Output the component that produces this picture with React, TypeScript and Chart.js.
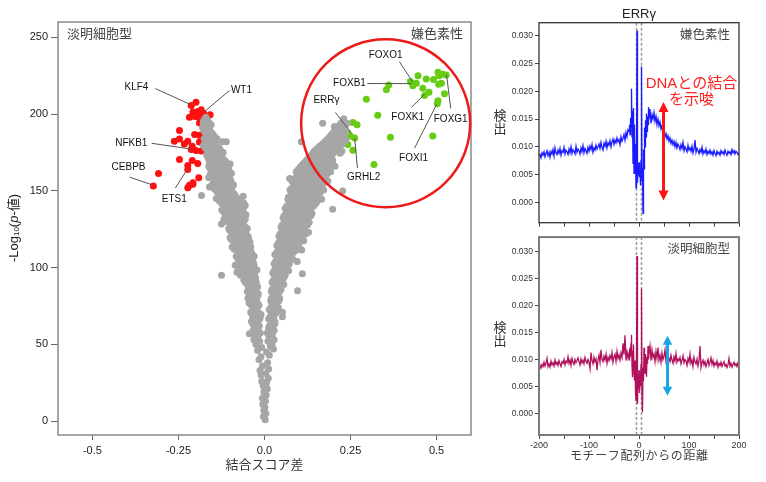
import { useEffect, useRef } from 'react';
import { Chart, registerables } from 'chart.js';

Chart.register(...registerables);

const FONT = '"Liberation Sans", Arial, "Noto Sans CJK JP", sans-serif';

// ---------------- Volcano plot data ----------------
const volcanoXTicks = [-0.5, -0.25, 0, 0.25, 0.5];
const volcanoXLabels = ['-0.5', '-0.25', '0.0', '0.25', '0.5'];
const volcanoYTicks = [0, 50, 100, 150, 200, 250];

// each row: [y, x1, x2, ...]
const greyRows: number[][] = [
  [1, 0.002], [3, -0.003], [5, 0.004], [7, -0.002], [9, 0.001], [11, -0.005], [13, 0.003],
  [15, -0.006], [17, 0.005], [19, -0.002], [21, 0.008], [23, -0.004], [25, 0.006], [26, -0.008],
  [28, 0.011], [30, -0.010], [31, 0.004], [33, -0.013], [34, 0.012], [36, -0.006], [38, 0.009],
  [40, -0.016], [42, -0.010], [43, 0.014], [45, 0.006], [46, -0.020], [48, -0.008], [49, 0.017],
  [47, 0.026], [50, -0.025], [52, -0.014, 0.010], [50, 0.022], [53, -0.031, 0.028], [57, -0.044],
  // left arm
  [56, -0.028, -0.018], [59, -0.022, -0.033], [62, -0.026, -0.015], [65, -0.030, -0.019, -0.038],
  [68, -0.024, -0.012, -0.034], [71, -0.028, -0.040, -0.018], [74, -0.032, -0.022],
  [77, -0.045, -0.030, -0.020], [80, -0.036, -0.025, -0.048], [83, -0.040, -0.028, -0.018],
  [86, -0.034, -0.046], [89, -0.050, -0.038, -0.026], [92, -0.044, -0.031, -0.060],
  [95, -0.070, -0.052, -0.036, -0.125], [97, -0.080, -0.062, -0.040, -0.028],
  [100, -0.075, -0.055, -0.042], [103, -0.066, -0.048, -0.032], [106, -0.078, -0.058, -0.040],
  [109, -0.070, -0.052, -0.036], [112, -0.088, -0.064, -0.045], [115, -0.082, -0.060, -0.048],
  [118, -0.095, -0.072, -0.055], [121, -0.088, -0.066, -0.050], [124, -0.100, -0.080, -0.060],
  [127, -0.092, -0.074, -0.058], [130, -0.110, -0.086, -0.066], [133, -0.104, -0.082, -0.064],
  [136, -0.118, -0.096, -0.075], [139, -0.112, -0.090, -0.070], [142, -0.125, -0.100, -0.080, -0.060],
  [145, -0.140, -0.118, -0.095, -0.076], [147, -0.183], [148, -0.130, -0.108, -0.088],
  [151, -0.145, -0.122, -0.100], [154, -0.152, -0.128, -0.105, -0.090], [157, -0.140, -0.118, -0.098],
  [160, -0.158, -0.135, -0.112], [163, -0.150, -0.128, -0.108], [166, -0.162, -0.140, -0.118],
  [169, -0.155, -0.132, -0.112], [172, -0.165, -0.145, -0.125], [175, -0.158, -0.138, -0.120],
  [178, -0.172, -0.150, -0.132], [181, -0.165, -0.142], [182, -0.122, -0.111], [184, -0.175, -0.155, -0.138],
  [187, -0.168, -0.150], [190, -0.178, -0.160], [193, -0.172, -0.155], [196, -0.176, -0.165],
  [57.5, -0.024, -0.012], [60.5, -0.030, -0.019], [63.5, -0.022, -0.034], [66.5, -0.027, -0.014],
  [69.5, -0.036, -0.020, -0.010], [72.5, -0.024, -0.034], [75.5, -0.038, -0.026, -0.016],
  [78.5, -0.042, -0.024], [81.5, -0.044, -0.030, -0.020], [84.5, -0.038, -0.024, -0.050],
  [87.5, -0.042, -0.030, -0.020], [90.5, -0.056, -0.034, -0.024], [93.5, -0.048, -0.026],
  [98.5, -0.068, -0.048, -0.022], [101.5, -0.085, -0.060, -0.030], [104.5, -0.074, -0.055, -0.036],
  [107.5, -0.082, -0.045, -0.030], [110.5, -0.076, -0.058, -0.040], [113.5, -0.094, -0.070, -0.052, -0.040],
  [116.5, -0.088, -0.066, -0.042], [119.5, -0.100, -0.078, -0.060, -0.046], [122.5, -0.094, -0.072, -0.055],
  [125.5, -0.104, -0.086, -0.068, -0.050], [128.5, -0.098, -0.080, -0.062, -0.125], [131.5, -0.118, -0.096, -0.074, -0.056],
  [134.5, -0.112, -0.090, -0.070, -0.054], [137.5, -0.124, -0.104, -0.084, -0.062],
  [140.5, -0.118, -0.096, -0.076, -0.056], [143.5, -0.132, -0.110, -0.088, -0.068],
  [146.5, -0.126, -0.102, -0.084, -0.062], [149.5, -0.138, -0.116, -0.094], [152.5, -0.160, -0.136, -0.114, -0.094],
  [155.5, -0.148, -0.126, -0.106], [158.5, -0.162, -0.146, -0.124, -0.102], [161.5, -0.156, -0.134, -0.114, -0.096],
  [164.5, -0.158, -0.146, -0.124, -0.104], [167.5, -0.160, -0.148, -0.126, -0.100], [170.5, -0.162, -0.140, -0.118],
  [173.5, -0.168, -0.150, -0.130], [176.5, -0.166, -0.146, -0.128], [179.5, -0.178, -0.158, -0.140],
  [182.5, -0.170, -0.150], [185.5, -0.162, -0.145], [188.5, -0.174, -0.156], [191.5, -0.166, -0.180],
  [194.5, -0.178, -0.162], [198, -0.170],
  // right arm
  [56, 0.012, 0.022], [59, 0.018, 0.028], [62, 0.014, 0.024], [65, 0.020, 0.030],
  [68, 0.016, 0.026, 0.052], [71, 0.022, 0.034, 0.052], [74, 0.018, 0.028, 0.040], [77, 0.024, 0.036],
  [80, 0.020, 0.030, 0.044], [83, 0.026, 0.038], [85, 0.096], [86, 0.022, 0.034, 0.048],
  [89, 0.030, 0.042, 0.056], [92, 0.026, 0.038, 0.052], [95, 0.032, 0.046, 0.060], [96, 0.110],
  [98, 0.028, 0.040, 0.055, 0.070], [101, 0.036, 0.050, 0.066], [104, 0.032, 0.046, 0.062, 0.095],
  [107, 0.040, 0.056, 0.072], [110, 0.036, 0.052, 0.068, 0.085], [113, 0.044, 0.060, 0.078, 0.100],
  [116, 0.040, 0.056, 0.074, 0.092], [119, 0.050, 0.066, 0.084, 0.105],
  [122, 0.046, 0.062, 0.080, 0.098, 0.120], [123, 0.128], [125, 0.055, 0.072, 0.090, 0.110],
  [128, 0.052, 0.068, 0.086, 0.104, 0.125], [131, 0.060, 0.078, 0.096, 0.115],
  [134, 0.058, 0.075, 0.094, 0.112, 0.135], [137, 0.068, 0.086, 0.104, 0.124], [138, 0.198],
  [140, 0.064, 0.082, 0.100, 0.120, 0.142], [143, 0.074, 0.092, 0.112, 0.132, 0.152],
  [146, 0.070, 0.090, 0.108, 0.128, 0.150], [149, 0.082, 0.100, 0.120, 0.140, 0.162], [150, 0.227],
  [152, 0.080, 0.098, 0.118, 0.138, 0.158], [155, 0.090, 0.110, 0.130, 0.150, 0.172],
  [158, 0.088, 0.108, 0.128, 0.148, 0.170, 0.073], [161, 0.100, 0.120, 0.140, 0.160, 0.182],
  [164, 0.098, 0.118, 0.138, 0.158, 0.180], [166, 0.205], [167, 0.110, 0.130, 0.150, 0.170, 0.190],
  [170, 0.122, 0.142, 0.162, 0.184, 0.198], [173, 0.135, 0.155, 0.175, 0.195],
  [176, 0.145, 0.165, 0.185, 0.205, 0.225], [179, 0.160, 0.178, 0.198, 0.218],
  [182, 0.107, 0.175, 0.192, 0.212, 0.232], [185, 0.188, 0.206, 0.224], [188, 0.200, 0.218, 0.235],
  [191, 0.212, 0.228], [192, 0.203], [194, 0.169, 0.222, 0.240], [197, 0.230],
  [57.5, 0.016, 0.008], [60.5, 0.024, 0.012], [63.5, 0.020, 0.030], [66.5, 0.012, 0.024],
  [69.5, 0.030, 0.020], [72.5, 0.014, 0.026], [75.5, 0.032, 0.022], [78.5, 0.018, 0.030, 0.042],
  [81.5, 0.026, 0.036], [84.5, 0.020, 0.030, 0.044], [87.5, 0.028, 0.040], [90.5, 0.022, 0.034, 0.048],
  [93.5, 0.030, 0.044, 0.056], [96.5, 0.024, 0.036, 0.050], [99.5, 0.032, 0.046, 0.062],
  [102.5, 0.028, 0.042, 0.058, 0.072], [105.5, 0.036, 0.050, 0.066, 0.082], [108.5, 0.030, 0.046, 0.062, 0.078],
  [111.5, 0.040, 0.056, 0.072, 0.092, 0.108], [114.5, 0.036, 0.050, 0.066, 0.084, 0.100],
  [117.5, 0.046, 0.062, 0.078, 0.096, 0.114], [120.5, 0.042, 0.058, 0.074, 0.090, 0.110],
  [123.5, 0.052, 0.068, 0.086, 0.104], [126.5, 0.048, 0.064, 0.080, 0.098, 0.118],
  [129.5, 0.058, 0.074, 0.092, 0.110, 0.130], [132.5, 0.054, 0.070, 0.088, 0.106, 0.126],
  [135.5, 0.064, 0.080, 0.098, 0.118, 0.138], [138.5, 0.060, 0.078, 0.096, 0.114, 0.134],
  [141.5, 0.072, 0.090, 0.108, 0.128, 0.148], [144.5, 0.068, 0.086, 0.104, 0.124, 0.146, 0.166],
  [147.5, 0.078, 0.096, 0.116, 0.136, 0.156], [150.5, 0.074, 0.094, 0.112, 0.132, 0.152, 0.172],
  [153.5, 0.086, 0.104, 0.124, 0.144, 0.166], [156.5, 0.080, 0.100, 0.120, 0.140, 0.160, 0.184],
  [159.5, 0.094, 0.114, 0.134, 0.154, 0.176], [162.5, 0.092, 0.112, 0.132, 0.152, 0.174, 0.192],
  [165.5, 0.104, 0.124, 0.144, 0.164, 0.186], [168.5, 0.116, 0.136, 0.156, 0.176, 0.196],
  [171.5, 0.128, 0.148, 0.168, 0.190], [174.5, 0.140, 0.160, 0.180, 0.200, 0.220],
  [177.5, 0.152, 0.172, 0.192, 0.212], [180.5, 0.168, 0.186, 0.206, 0.226],
  [183.5, 0.182, 0.200, 0.218, 0.236], [186.5, 0.194, 0.212, 0.230], [189.5, 0.206, 0.222],
  [192.5, 0.216, 0.234],
];

const redPoints: number[][] = [
  [-0.213, 205.6], [-0.199, 207.8], [-0.208, 201.3], [-0.193, 201.7], [-0.184, 202.8], [-0.177, 200.6],
  [-0.158, 199.6], [-0.218, 197.9], [-0.203, 198.5], [-0.191, 197.9], [-0.189, 194.2], [-0.247, 189.3],
  [-0.203, 186.7], [-0.189, 186.2], [-0.262, 182.3], [-0.247, 183.8], [-0.233, 180.6], [-0.223, 182.3],
  [-0.210, 179.1], [-0.213, 177.0], [-0.189, 181.9], [-0.199, 176.3], [-0.184, 175.9], [-0.247, 170.5],
  [-0.210, 169.8], [-0.194, 167.9], [-0.223, 166.6], [-0.223, 164.0], [-0.191, 158.6], [-0.208, 155.3],
  [-0.218, 153.7], [-0.223, 152.1], [-0.208, 154.3], [-0.308, 161.4], [-0.323, 153.2],
];

const greenPoints: number[][] = [
  [0.446, 225.0], [0.470, 222.9], [0.491, 222.5], [0.504, 227.2], [0.507, 225.0], [0.518, 225.9],
  [0.528, 225.5], [0.514, 220.1], [0.506, 219.4], [0.441, 220.1], [0.424, 221.2], [0.431, 218.4],
  [0.460, 216.8], [0.478, 214.2], [0.465, 212.1], [0.523, 213.2], [0.504, 208.7], [0.502, 206.7],
  [0.361, 219.0], [0.354, 215.8], [0.296, 209.7], [0.329, 199.2], [0.257, 194.6], [0.269, 193.1],
  [0.242, 187.7], [0.250, 185.6], [0.262, 184.5], [0.242, 180.2], [0.257, 176.5], [0.366, 184.9],
  [0.489, 185.8], [0.318, 167.2],
];

const tfNames = ['KLF4', 'WT1', 'NFKB1', 'CEBPB', 'ETS1', 'FOXO1', 'FOXB1', 'ERRγ', 'FOXK1', 'FOXG1', 'FOXI1', 'GRHL2'];
const tfLabelAt = [
  [-0.372, 217.3], [-0.067, 215.3], [-0.387, 181.0], [-0.395, 165.5], [-0.262, 144.8], [0.352, 238.6],
  [0.247, 219.9], [0.180, 208.9], [0.416, 197.9], [0.541, 196.6], [0.433, 171.3], [0.288, 159.0],
];
const tfLineFrom = [
  [-0.317, 216.6], [-0.102, 215.3], [-0.328, 181.0], [-0.392, 159.0], [-0.259, 151.9], [0.392, 234.1],
  [0.299, 219.9], [0.206, 201.1], [0.427, 204.4], [0.541, 203.7], [0.436, 177.8], [0.270, 164.9],
];
const tfLineTo = [
  [-0.215, 206.3], [-0.174, 201.8], [-0.212, 177.2], [-0.326, 153.9], [-0.224, 164.2], [0.430, 221.2],
  [0.427, 219.9], [0.253, 187.5], [0.465, 212.8], [0.529, 225.7], [0.500, 206.3], [0.262, 184.3],
];
const circleCenter = [0.352, 194];
const circleRadius = [0.2456, 54.7];

// ---------------- Footprint data ----------------
const posX = [
  -200, -198, -196, -194, -192, -190, -188, -186, -184, -182,
  -180, -178, -176, -174, -172, -170, -168, -166, -164, -162,
  -160, -158, -156, -154, -152, -150, -148, -146, -144, -142,
  -140, -138, -136, -134, -132, -130, -128, -126, -124, -122,
  -120, -118, -116, -114, -112, -110, -108, -106, -104, -102,
  -100, -98, -96, -94, -92, -90, -88, -86, -84, -82,
  -80, -78, -76, -74, -72, -70, -68, -66, -64, -62,
  -60, -58, -56, -54, -52, -50, -48, -46, -44, -42,
  -40, -38, -36, -34, -32, -30, -28, -26, -24, -22,
  -20, -19, -18, -17, -16, -15, -14, -13, -12, -11, -10, -9, -8, -7, -6, -5, -4, -3, -2, -1,
  0, 1, 2, 3, 4, 5, 6, 7, 8, 9, 10, 11, 12, 13, 14, 15, 16, 17, 18, 19, 20,
  22, 24, 26, 28, 30, 32, 34, 36, 38, 40,
  42, 44, 46, 48, 50, 52, 54, 56, 58, 60,
  62, 64, 66, 68, 70, 72, 74, 76, 78, 80,
  82, 84, 86, 88, 90, 92, 94, 96, 98, 100,
  102, 104, 106, 108, 110, 112, 114, 116, 118, 120,
  122, 124, 126, 128, 130, 132, 134, 136, 138, 140,
  142, 144, 146, 148, 150, 152, 154, 156, 158, 160,
  162, 164, 166, 168, 170, 172, 174, 176, 178, 180,
  182, 184, 186, 188, 190, 192, 194, 196, 198, 200,
];

const chromophobeY = [
  0.0083, 0.0086, 0.0080, 0.0089, 0.0085, 0.0091, 0.0082, 0.0088, 0.0093, 0.0084,
  0.0090, 0.0081, 0.0092, 0.0087, 0.0095, 0.0083, 0.0098, 0.0089, 0.0086, 0.0094,
  0.0088, 0.0097, 0.0085, 0.0093, 0.0090, 0.0099, 0.0087, 0.0094, 0.0091, 0.0086,
  0.0096, 0.0089, 0.0100, 0.0088, 0.0095, 0.0092, 0.0087, 0.0101, 0.0090, 0.0096,
  0.0093, 0.0087, 0.0098, 0.0091, 0.0102, 0.0089, 0.0097, 0.0093, 0.0088, 0.0099,
  0.0092, 0.0101, 0.0095, 0.0104, 0.0090, 0.0098, 0.0094, 0.0103, 0.0096, 0.0100,
  0.0105, 0.0097, 0.0108, 0.0099, 0.0094, 0.0106, 0.0101, 0.0110, 0.0098, 0.0107,
  0.0103, 0.0111, 0.0100, 0.0109, 0.0114, 0.0104, 0.0112, 0.0107, 0.0116, 0.0109,
  0.0113, 0.0104, 0.0118, 0.0110, 0.0115, 0.0122, 0.0112, 0.0126, 0.0118, 0.0131,
  0.0128, 0.0140, 0.0122, 0.0152, 0.0135, 0.0205, 0.0118, 0.0165, 0.0070, 0.0170,
  0.0052, 0.0140, 0.0060, 0.0105, 0.0026, 0.0062, 0.0310, 0.0035, 0.0068, 0.0048,
  0.0072, 0.0045, 0.0060, 0.0030, 0.0075, 0.0245, 0.0038, 0.0062, -0.0020, 0.0095,
  0.0060, 0.0135, 0.0100, 0.0148, 0.0118, 0.0160, 0.0128, 0.0155, 0.0140, 0.0172, 0.0150,
  0.0168, 0.0142, 0.0158, 0.0150, 0.0162, 0.0146, 0.0155, 0.0140, 0.0150, 0.0138,
  0.0145, 0.0132, 0.0138, 0.0126, 0.0130, 0.0118, 0.0124, 0.0114, 0.0120, 0.0110,
  0.0116, 0.0106, 0.0112, 0.0104, 0.0110, 0.0100, 0.0108, 0.0098, 0.0105, 0.0101,
  0.0095, 0.0104, 0.0097, 0.0108, 0.0093, 0.0100, 0.0096, 0.0091, 0.0103, 0.0094,
  0.0098, 0.0092, 0.0101, 0.0089, 0.0096, 0.0112, 0.0090, 0.0097, 0.0093, 0.0088,
  0.0095, 0.0090, 0.0099, 0.0087, 0.0093, 0.0089, 0.0096, 0.0086, 0.0092, 0.0088,
  0.0094, 0.0087, 0.0091, 0.0085, 0.0093, 0.0088, 0.0084, 0.0092, 0.0087, 0.0090,
  0.0085, 0.0093, 0.0088, 0.0091, 0.0086, 0.0094, 0.0089, 0.0085, 0.0092, 0.0088,
  0.0091, 0.0086, 0.0095, 0.0089, 0.0093, 0.0087, 0.0092, 0.0090, 0.0086, 0.0089,
];

const clearCellY = [
  0.0086, 0.0089, 0.0084, 0.0091, 0.0087, 0.0095, 0.0088, 0.0093, 0.0102, 0.0087,
  0.0092, 0.0086, 0.0097, 0.0090, 0.0094, 0.0088, 0.0099, 0.0091, 0.0095, 0.0089,
  0.0098, 0.0092, 0.0087, 0.0096, 0.0093, 0.0100, 0.0090, 0.0097, 0.0094, 0.0105,
  0.0093, 0.0099, 0.0089, 0.0102, 0.0095, 0.0091, 0.0100, 0.0094, 0.0098, 0.0103,
  0.0096, 0.0090, 0.0101, 0.0094, 0.0099, 0.0092, 0.0104, 0.0097, 0.0093, 0.0100,
  0.0095, 0.0083, 0.0113, 0.0098, 0.0092, 0.0104, 0.0096, 0.0101, 0.0080, 0.0099,
  0.0108, 0.0095, 0.0118, 0.0100, 0.0096, 0.0106, 0.0099, 0.0110, 0.0093, 0.0104,
  0.0098, 0.0107, 0.0101, 0.0113, 0.0095, 0.0105, 0.0110, 0.0097, 0.0115, 0.0102,
  0.0108, 0.0099, 0.0112, 0.0104, 0.0130, 0.0109, 0.0145, 0.0098, 0.0114, 0.0103,
  0.0112, 0.0098, 0.0122, 0.0105, 0.0130, 0.0146, 0.0090, 0.0067, 0.0115, 0.0128,
  0.0075, 0.0061, 0.0098, 0.0040, 0.0024, 0.0095, 0.0292, 0.0018, 0.0060, 0.0045,
  0.0080, 0.0038, 0.0065, 0.0050, 0.0090, 0.0231, 0.0030, 0.0002, 0.0085, 0.0060,
  0.0122, 0.0095, 0.0075, 0.0110, 0.0088, 0.0068, 0.0105, 0.0092, 0.0125, 0.0100, 0.0112,
  0.0125, 0.0098, 0.0118, 0.0104, 0.0110, 0.0096, 0.0115, 0.0102, 0.0122, 0.0099,
  0.0108, 0.0095, 0.0112, 0.0100, 0.0106, 0.0118, 0.0097, 0.0104, 0.0094, 0.0102,
  0.0096, 0.0108, 0.0099, 0.0093, 0.0105, 0.0097, 0.0111, 0.0095, 0.0101, 0.0098,
  0.0104, 0.0092, 0.0099, 0.0107, 0.0094, 0.0100, 0.0097, 0.0089, 0.0102, 0.0095,
  0.0110, 0.0093, 0.0099, 0.0087, 0.0104, 0.0096, 0.0092, 0.0101, 0.0088, 0.0097,
  0.0125, 0.0085, 0.0094, 0.0099, 0.0090, 0.0096, 0.0087, 0.0093, 0.0100, 0.0089,
  0.0095, 0.0103, 0.0091, 0.0098, 0.0088, 0.0094, 0.0090, 0.0097, 0.0086, 0.0093,
  0.0089, 0.0095, 0.0087, 0.0092, 0.0096, 0.0088, 0.0091, 0.0085, 0.0090, 0.0102,
  0.0088, 0.0093, 0.0086, 0.0091, 0.0095, 0.0089, 0.0092, 0.0087, 0.0094, 0.0091,
];

const footYTicks = [0, 0.005, 0.01, 0.015, 0.02, 0.025, 0.03];
const footXTicks = [-200, -150, -100, -50, 0, 50, 100, 150, 200];
const footXLabels = ['-200', '', '-100', '', '0', '', '100', '', '200'];
const motifEdges = [-5, 5];
const redArrow = [49, 0.0003, 0.0181];
const blueArrow = [57, 0.0033, 0.0144];
const noteLines = ['DNAとの結合', 'を示唆'];
const noteAt = [105, 0.0214, 0.0184];

// ---------------- helpers ----------------
function drawDoubleArrow(ctx: CanvasRenderingContext2D, x: number, yTop: number, yBot: number, color: string, hw: number, hh: number) {
  ctx.save();
  ctx.strokeStyle = color;
  ctx.fillStyle = color;
  ctx.lineWidth = 3;
  ctx.beginPath();
  ctx.moveTo(x, yTop + hh - 1);
  ctx.lineTo(x, yBot - hh + 1);
  ctx.stroke();
  ctx.beginPath();
  ctx.moveTo(x, yTop);
  ctx.lineTo(x - hw / 2, yTop + hh);
  ctx.lineTo(x + hw / 2, yTop + hh);
  ctx.closePath();
  ctx.fill();
  ctx.beginPath();
  ctx.moveTo(x, yBot);
  ctx.lineTo(x - hw / 2, yBot - hh);
  ctx.lineTo(x + hw / 2, yBot - hh);
  ctx.closePath();
  ctx.fill();
  ctx.restore();
}

const volcanoDeco = {
  id: 'volcanoDeco',
  afterDatasetsDraw(chart: any) {
    const { ctx, chartArea: a, scales } = chart;
    const x = scales.x, y = scales.y;
    ctx.save();
    ctx.strokeStyle = '#8a8a8a';
    ctx.lineWidth = 1.5;
    ctx.strokeRect(a.left, a.top, a.right - a.left, a.bottom - a.top);
    const cx = x.getPixelForValue(circleCenter[0]);
    const cy = y.getPixelForValue(circleCenter[1]);
    const rx = x.getPixelForValue(circleCenter[0] + circleRadius[0]) - cx;
    const ry = cy - y.getPixelForValue(circleCenter[1] + circleRadius[1]);
    ctx.beginPath();
    ctx.ellipse(cx, cy, rx, ry, 0, 0, Math.PI * 2);
    ctx.strokeStyle = '#ee1a1a';
    ctx.lineWidth = 2.5;
    ctx.stroke();
    ctx.strokeStyle = '#555';
    ctx.lineWidth = 1;
    tfNames.forEach((_, i) => {
      ctx.beginPath();
      ctx.moveTo(x.getPixelForValue(tfLineFrom[i][0]), y.getPixelForValue(tfLineFrom[i][1]));
      ctx.lineTo(x.getPixelForValue(tfLineTo[i][0]), y.getPixelForValue(tfLineTo[i][1]));
      ctx.stroke();
    });
    ctx.fillStyle = '#111';
    ctx.font = `10px ${FONT}`;
    ctx.textAlign = 'center';
    ctx.textBaseline = 'middle';
    tfNames.forEach((n, i) => {
      ctx.fillText(n, x.getPixelForValue(tfLabelAt[i][0]), y.getPixelForValue(tfLabelAt[i][1]));
    });
    ctx.fillStyle = '#444';
    ctx.font = `13px ${FONT}`;
    ctx.textAlign = 'left';
    ctx.fillText('淡明細胞型', a.left + 9, a.top + 12);
    ctx.textAlign = 'right';
    ctx.fillText('嫌色素性', a.right - 8, a.top + 12);
    ctx.fillStyle = '#333';
    ctx.textAlign = 'center';
    ctx.fillText('結合スコア差', (a.left + a.right) / 2, 465);
    ctx.translate(14, 228);
    ctx.rotate(-Math.PI / 2);
    const parts = [
      { t: '-Log', f: `13px ${FONT}`, dy: 0 },
      { t: '10', f: `8px ${FONT}`, dy: 3 },
      { t: '(', f: `13px ${FONT}`, dy: 0 },
      { t: 'p', f: `italic 13px ${FONT}`, dy: 0 },
      { t: '-値)', f: `13px ${FONT}`, dy: 0 },
    ];
    let total = 0;
    const widths = parts.map((p) => {
      ctx.font = p.f;
      const w = ctx.measureText(p.t).width;
      total += w;
      return w;
    });
    let cur = -total / 2;
    ctx.textAlign = 'left';
    ctx.fillStyle = '#222';
    parts.forEach((p, i) => {
      ctx.font = p.f;
      ctx.fillText(p.t, cur, p.dy);
      cur += widths[i];
    });
    ctx.restore();
  },
};

function footDeco(cfg: { id: string; corner: string; title: boolean; note: boolean; xTitle: boolean; yTitleOffsets: number[] }) {
  return {
    id: cfg.id,
    beforeDatasetsDraw(chart: any) {
      const { ctx, chartArea: a, scales } = chart;
      ctx.save();
      ctx.strokeStyle = '#9a9a9a';
      ctx.lineWidth = 1.5;
      ctx.setLineDash([3, 2]);
      motifEdges.forEach((m) => {
        const px = scales.x.getPixelForValue(m);
        ctx.beginPath();
        ctx.moveTo(px, a.top);
        ctx.lineTo(px, a.bottom);
        ctx.stroke();
      });
      ctx.restore();
    },
    afterDatasetsDraw(chart: any) {
      const { ctx, chartArea: a, scales } = chart;
      const x = scales.x, y = scales.y;
      ctx.save();
      ctx.strokeStyle = cfg.note ? '#333' : '#7a7a7a';
      ctx.lineWidth = cfg.note ? 1.3 : 2;
      ctx.strokeRect(a.left, a.top, a.right - a.left, a.bottom - a.top);
      ctx.fillStyle = '#444';
      ctx.font = `12.5px ${FONT}`;
      ctx.textAlign = 'right';
      ctx.textBaseline = 'middle';
      ctx.fillText(cfg.corner, a.right - 9, a.top + 12.5);
      ctx.fillStyle = '#333';
      ctx.font = `13px ${FONT}`;
      ctx.textAlign = 'center';
      const mid = (a.top + a.bottom) / 2;
      ctx.fillText('検', 20, mid + cfg.yTitleOffsets[0]);
      ctx.fillText('出', 20, mid + cfg.yTitleOffsets[1]);
      if (cfg.title) {
        ctx.fillStyle = '#222';
        ctx.font = `13px ${FONT}`;
        ctx.fillText('ERRγ', (a.left + a.right) / 2, 14);
      }
      if (cfg.note) {
        ctx.fillStyle = '#ff2020';
        ctx.font = `15px ${FONT}`;
        const nx = x.getPixelForValue(noteAt[0]);
        ctx.fillText(noteLines[0], nx, y.getPixelForValue(noteAt[1]));
        ctx.fillText(noteLines[1], nx, y.getPixelForValue(noteAt[2]));
        drawDoubleArrow(ctx, x.getPixelForValue(redArrow[0]), y.getPixelForValue(redArrow[2]), y.getPixelForValue(redArrow[1]), '#ff1414', 10, 10);
      } else {
        drawDoubleArrow(ctx, x.getPixelForValue(blueArrow[0]), y.getPixelForValue(blueArrow[2]), y.getPixelForValue(blueArrow[1]), '#1ba6e6', 9.5, 9);
      }
      if (cfg.xTitle) {
        ctx.fillStyle = '#444';
        ctx.font = `12px ${FONT}`;
        const txt = 'モチーフ配列からの距離';
        const step = 12.6;
        const start = (a.left + a.right) / 2 - ((txt.length - 1) * step) / 2;
        for (let i = 0; i < txt.length; i++) ctx.fillText(txt[i], start + i * step, 227);
      }
      ctx.restore();
    },
  };
}

function footOptions(yMin: number, yMax: number, pad: any, xHeight: number, showXLabels: boolean) {
  return {
    responsive: false,
    animation: false as const,
    events: [] as any[],
    layout: { padding: pad },
    plugins: { legend: { display: false }, tooltip: { enabled: false } },
    scales: {
      x: {
        type: 'linear' as const,
        min: -200,
        max: 200,
        afterBuildTicks: (s: any) => { s.ticks = footXTicks.map((v) => ({ value: v })); },
        afterFit: (s: any) => { s.height = xHeight; },
        ticks: {
          autoSkip: false,
          maxRotation: 0,
          padding: 1,
          color: '#333',
          font: { family: FONT, size: 9 },
          callback: (_v: any, i: number) => (showXLabels ? footXLabels[i] : ''),
        },
        grid: { drawOnChartArea: false, drawTicks: true, tickLength: 4, color: '#444' },
        border: { display: false },
      },
      y: {
        min: yMin,
        max: yMax,
        afterBuildTicks: (s: any) => { s.ticks = footYTicks.map((v) => ({ value: v })); },
        afterFit: (s: any) => { s.width = 59; },
        ticks: {
          padding: 2,
          color: '#333',
          font: { family: FONT, size: 8.5 },
          callback: (v: any) => Number(v).toFixed(3),
        },
        grid: { drawOnChartArea: false, drawTicks: true, tickLength: 4, color: '#444' },
        border: { display: false },
      },
    },
  };
}

export default function App() {
  const volRef = useRef<HTMLCanvasElement>(null);
  const topRef = useRef<HTMLCanvasElement>(null);
  const botRef = useRef<HTMLCanvasElement>(null);

  useEffect(() => {
    const greyPts = greyRows.flatMap((r) => r.slice(1).map((xv) => ({ x: xv, y: r[0] })));
    const vol = new Chart(volRef.current!, {
      type: 'scatter',
      data: {
        datasets: [
          { data: greyPts, pointRadius: 3.5, pointBackgroundColor: '#a6a6a6', pointBorderWidth: 0, borderWidth: 0 },
          { data: redPoints.map((p) => ({ x: p[0], y: p[1] })), pointRadius: 3.5, pointBackgroundColor: '#ff1010', pointBorderWidth: 0, borderWidth: 0 },
          { data: greenPoints.map((p) => ({ x: p[0], y: p[1] })), pointRadius: 3.5, pointBackgroundColor: '#66cc14', pointBorderWidth: 0, borderWidth: 0 },
        ],
      },
      options: {
        responsive: false,
        animation: false,
        events: [],
        layout: { padding: { left: 0, top: 22, right: 9, bottom: 0 } },
        plugins: { legend: { display: false }, tooltip: { enabled: false } },
        scales: {
          x: {
            type: 'linear',
            min: -0.6,
            max: 0.6,
            afterBuildTicks: (s: any) => { s.ticks = volcanoXTicks.map((v) => ({ value: v })); },
            afterFit: (s: any) => { s.height = 47; },
            ticks: {
              autoSkip: false,
              maxRotation: 0,
              padding: 4,
              color: '#222',
              font: { family: FONT, size: 11 },
              callback: (_v: any, i: number) => volcanoXLabels[i],
            },
            grid: { drawOnChartArea: false, drawTicks: true, tickLength: 5, color: '#666' },
            border: { display: false },
          },
          y: {
            min: -9,
            max: 260,
            afterBuildTicks: (s: any) => { s.ticks = volcanoYTicks.map((v) => ({ value: v })); },
            afterFit: (s: any) => { s.width = 58; },
            ticks: { padding: 3, color: '#222', font: { family: FONT, size: 11 } },
            grid: { drawOnChartArea: false, drawTicks: true, tickLength: 7, color: '#666' },
            border: { display: false },
          },
        },
      } as any,
      plugins: [volcanoDeco],
    });

    const top = new Chart(topRef.current!, {
      type: 'line',
      data: {
        datasets: [{
          data: posX.map((xv, i) => ({ x: xv, y: chromophobeY[i] })),
          borderColor: '#1a1aff',
          borderWidth: 1.3,
          pointRadius: 0,
          tension: 0,
        }],
      },
      options: footOptions(-0.0037, 0.0324, { left: 0, top: 22.7, right: 27, bottom: 0 }, 7.3, false) as any,
      plugins: [footDeco({ id: 'fdTop', corner: '嫌色素性', title: true, note: true, xTitle: false, yTitleOffsets: [-6, 7] })],
    });

    const bot = new Chart(botRef.current!, {
      type: 'line',
      data: {
        datasets: [{
          data: posX.map((xv, i) => ({ x: xv, y: clearCellY[i] })),
          borderColor: '#b0105c',
          borderWidth: 1.3,
          pointRadius: 0,
          tension: 0,
        }],
      },
      options: footOptions(-0.004, 0.0327, { left: 0, top: 4.3, right: 27, bottom: 0 }, 47, true) as any,
      plugins: [footDeco({ id: 'fdBot', corner: '淡明細胞型', title: false, note: false, xTitle: true, yTitleOffsets: [-8, 5] })],
    });

    return () => {
      vol.destroy();
      top.destroy();
      bot.destroy();
    };
  }, []);

  return (
    <div style={{ position: 'absolute', left: 0, top: 0, width: 766, height: 482, background: '#fff' }}>
      <canvas ref={volRef} width={480} height={482} style={{ position: 'absolute', left: 0, top: 0 }} />
      <canvas ref={topRef} width={286} height={230} style={{ position: 'absolute', left: 480, top: 0 }} />
      <canvas ref={botRef} width={286} height={252} style={{ position: 'absolute', left: 480, top: 230 }} />
    </div>
  );
}
